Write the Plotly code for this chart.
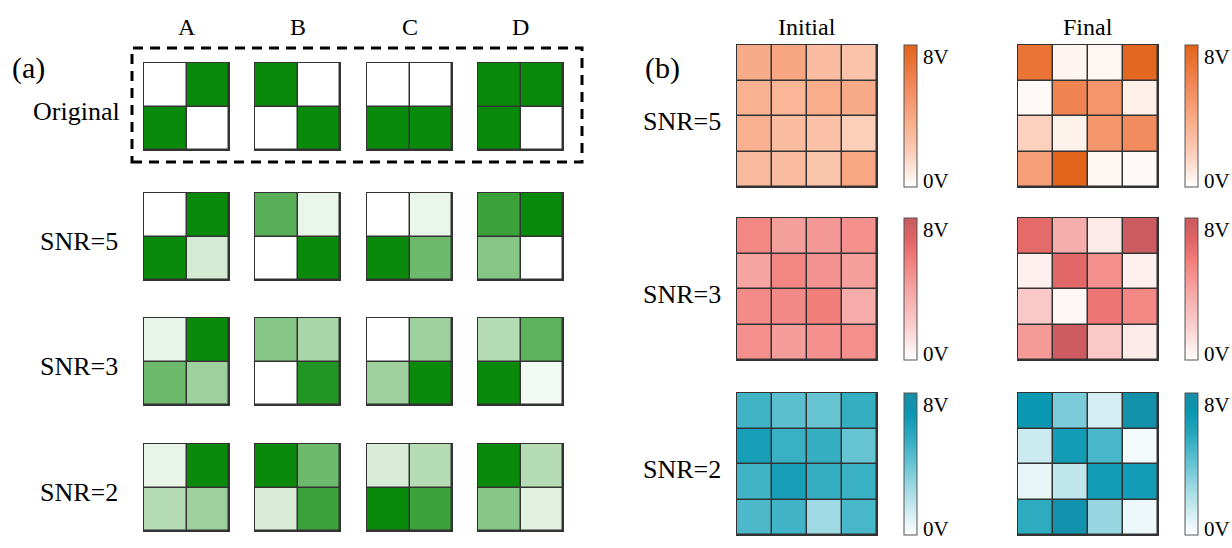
import plotly.graph_objects as go

W, H = 1232, 548
FONT = "Liberation Serif, Times New Roman, serif"

# ---------------- panel (a): 2x2 patterns, intensity 0 (blank) .. 1 (full) ----------------
patterns = ["A", "B", "C", "D"]
noise_levels_a = ["Original", "SNR=5", "SNR=3", "SNR=2"]

# each pattern: [[top-left, top-right], [bottom-left, bottom-right]]
original = [
    [[0, 1], [1, 0]],
    [[1, 0], [0, 1]],
    [[0, 0], [1, 1]],
    [[1, 1], [1, 0]],
]
snr5_patterns = [
    [[0.0, 1.0], [1.0, 0.18]],
    [[0.68, 0.08], [0.0, 1.0]],
    [[0.0, 0.08], [1.0, 0.6]],
    [[0.8, 1.0], [0.5, 0.0]],
]
snr3_patterns = [
    [[0.09, 1.0], [0.6, 0.4]],
    [[0.5, 0.35], [0.0, 0.9]],
    [[0.0, 0.4], [0.4, 1.0]],
    [[0.3, 0.66], [1.0, 0.05]],
]
snr2_patterns = [
    [[0.09, 1.0], [0.3, 0.4]],
    [[1.0, 0.6], [0.16, 0.8]],
    [[0.16, 0.3], [1.0, 0.8]],
    [[1.0, 0.3], [0.5, 0.12]],
]
panel_a_rows = [original, snr5_patterns, snr3_patterns, snr2_patterns]

# ---------------- panel (b): 4x4 voltage maps (V), rows top to bottom ----------------
stages = ["Initial", "Final"]
noise_levels_b = ["SNR=5", "SNR=3", "SNR=2"]
v_range = [0, 8]
v_ticktext = ["0V", "8V"]

initial_snr5 = [
    [3.8, 4.1, 2.8, 2.5],
    [3.4, 3.2, 3.7, 3.8],
    [3.5, 2.8, 2.6, 1.9],
    [3.0, 2.8, 2.4, 4.0],
]
final_snr5 = [
    [7.0, 0.4, 0.3, 7.8],
    [0.2, 6.0, 5.0, 0.6],
    [1.8, 0.5, 5.0, 5.5],
    [4.5, 8.0, 0.3, 0.2],
]
initial_snr3 = [
    [5.2, 4.2, 4.5, 4.8],
    [4.0, 5.3, 4.7, 4.2],
    [5.0, 5.1, 5.6, 3.6],
    [4.9, 4.3, 4.8, 4.9],
]
final_snr3 = [
    [6.5, 3.5, 0.8, 7.8],
    [0.6, 6.6, 4.8, 0.6],
    [2.2, 0.4, 6.0, 5.2],
    [4.4, 7.8, 2.2, 0.8],
]
initial_snr2 = [
    [5.0, 4.3, 4.0, 5.3],
    [6.3, 5.2, 5.3, 4.0],
    [5.0, 6.3, 5.3, 5.2],
    [4.7, 5.0, 2.6, 4.8],
]
final_snr2 = [
    [6.8, 3.5, 1.2, 7.5],
    [1.4, 6.5, 4.8, 0.3],
    [0.7, 1.8, 6.5, 6.5],
    [5.5, 7.4, 2.8, 0.5],
]
panel_b_rows = [[initial_snr5, final_snr5], [initial_snr3, final_snr3], [initial_snr2, final_snr2]]

# ---------------- colour scales ----------------
green_scale = [[0, "#ffffff"], [1, "#0a8a0a"]]
orange_scale = [[0, "#ffffff"], [0.25, "#fcccb6"], [0.5, "#f8a783"], [0.7, "#f28a5c"], [1, "#e2641a"]]
red_scale = [[0, "#ffffff"], [0.25, "#f9cccb"], [0.5, "#f5a4a2"], [0.7, "#f27e7a"], [0.85, "#e06466"], [1, "#c85a5d"]]
teal_scale = [[0, "#ffffff"], [0.3, "#a8dde6"], [0.5, "#66c4d3"], [0.7, "#2aa9be"], [0.85, "#0a98b2"], [1, "#1a8ca6"]]
row_scales_b = [orange_scale, red_scale, teal_scale]

# ---------------- layout geometry (pixels) ----------------
a_x = [144, 255, 367, 478]
a_y = [63, 193, 318, 444]
a_w, a_h = 85, 87
b_x = [737, 1018]
b_y = [45, 218, 393]
b_w, b_h = 140, 142
cbar_x = [904, 1185]
cbar_w = 13

fig = go.Figure()
layout_axes = {}
n_axes = 0


def px_x(v):
    return v / W


def px_y(v):
    return 1 - v / H


def add_map(z, x0, y0, w, h, scale, zmax, colorbar=None):
    global n_axes
    n_axes += 1
    sfx = "" if n_axes == 1 else str(n_axes)
    nrows, ncols = len(z), len(z[0])
    fig.add_trace(go.Heatmap(
        z=z, xaxis="x" + sfx, yaxis="y" + sfx,
        zmin=0, zmax=zmax, colorscale=scale,
        showscale=colorbar is not None, colorbar=colorbar or {},
        xgap=1.5, ygap=1.5, hoverinfo="skip",
    ))
    common = dict(showticklabels=False, showgrid=False, zeroline=False, ticks="",
                  showline=True, mirror=True, linecolor="#333333", linewidth=1, fixedrange=True)
    layout_axes["xaxis" + sfx] = dict(domain=[px_x(x0), px_x(x0 + w)], range=[-0.5, ncols - 0.5],
                                      anchor="y" + sfx, **common)
    layout_axes["yaxis" + sfx] = dict(domain=[px_y(y0 + h), px_y(y0)], range=[nrows - 0.5, -0.5],
                                      anchor="x" + sfx, **common)


annotations = []


def label(text, x, y, size, xanchor="center", yanchor="middle"):
    annotations.append(dict(text=text, x=px_x(x), y=px_y(y), xref="paper", yref="paper",
                            xanchor=xanchor, yanchor=yanchor, showarrow=False,
                            font=dict(family=FONT, size=size, color="black")))


# panel (a)
for r, row in enumerate(panel_a_rows):
    for c, pat in enumerate(row):
        add_map(pat, a_x[c], a_y[r], a_w, a_h, green_scale, 1)

# panel (b): heatmaps with a slim colour bar each; end labels written beside the bar
for r, row in enumerate(panel_b_rows):
    for c, z in enumerate(row):
        cb = dict(
            x=px_x(cbar_x[c]), xanchor="left", y=px_y(b_y[r]), yanchor="top",
            len=b_h, lenmode="pixels", thickness=cbar_w, thicknessmode="pixels",
            xpad=0, ypad=0, outlinewidth=1, outlinecolor="#555555",
            tickvals=v_range, showticklabels=False, ticks="",
        )
        add_map(z, b_x[c], b_y[r], b_w, b_h, row_scales_b[r], v_range[1], cb)
        label(v_ticktext[1], cbar_x[c] + cbar_w + 4, b_y[r] - 2, 21, xanchor="left", yanchor="top")
        label(v_ticktext[0], cbar_x[c] + cbar_w + 4, b_y[r] + b_h - 6, 21, xanchor="left")

label("(a)", 28, 68, 30)
label("(b)", 662, 68, 30)
for c, name in enumerate(patterns):
    label(name, a_x[c] + a_w / 2, 27, 24)
for r, name in enumerate(noise_levels_a):
    label(name, 122 if r == 0 else 120, a_y[r] + a_h / 2 + 5, 26, xanchor="right")
for c, name in enumerate(stages):
    label(name, b_x[c] + b_w / 2, 27, 24)
for r, name in enumerate(noise_levels_b):
    label(name, 723, b_y[r] + b_h / 2 + 5, 26, xanchor="right")

fig.update_layout(
    width=W, height=H, margin=dict(l=0, r=0, t=0, b=0),
    paper_bgcolor="white", plot_bgcolor="#333333",
    showlegend=False, annotations=annotations,
    shapes=[dict(type="rect", xref="paper", yref="paper",
                 x0=px_x(132), x1=px_x(582), y0=px_y(162), y1=px_y(48),
                 line=dict(color="black", width=3, dash="10px,7px"))],
    **layout_axes,
)

fig.write_html("out.html")
